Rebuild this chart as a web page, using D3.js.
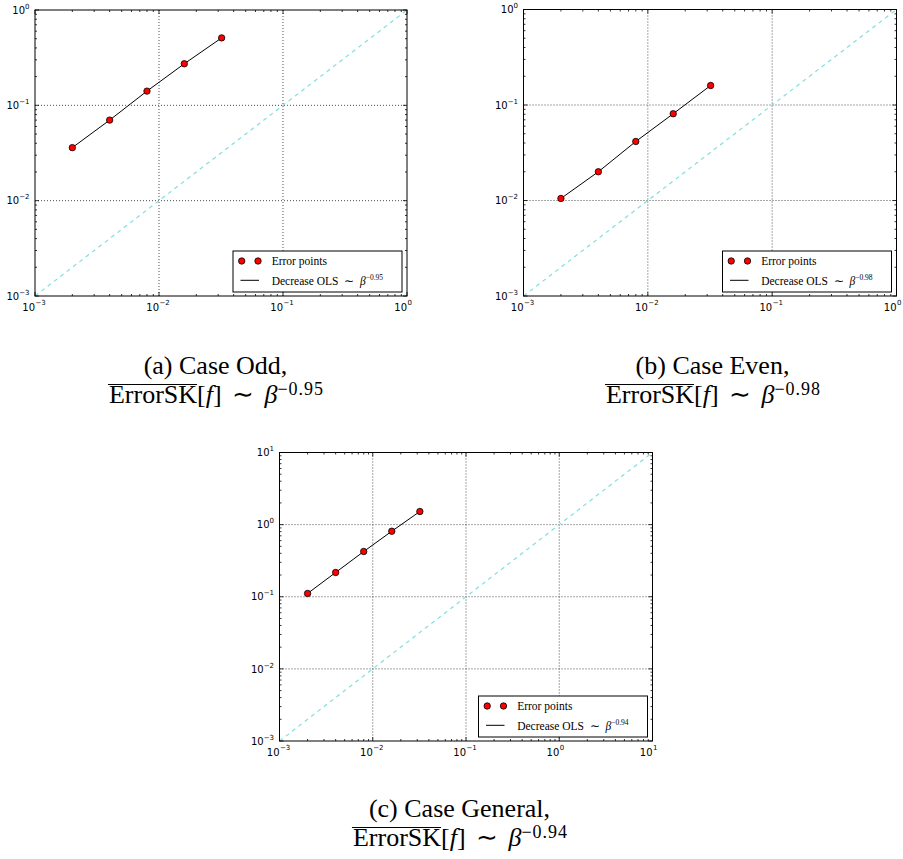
<!DOCTYPE html>
<html>
<head>
<meta charset="utf-8">
<script src="https://cdn.jsdelivr.net/npm/d3@7"></script>
<style>
  html, body { margin: 0; padding: 0; background: #fff; }
  svg { display: block; }
</style>
</head>
<body>
<svg id="chart" width="903" height="859"></svg>
<script>
// ---------------- data ----------------
const betaValues   = [0.002, 0.004, 0.008, 0.016, 0.032];
const errorOdd     = [0.036, 0.070, 0.141, 0.273, 0.51];
const errorEven    = [0.0105, 0.020, 0.0415, 0.081, 0.160];
const errorGeneral = [0.111, 0.217, 0.424, 0.81, 1.52];
const exponents    = ["0.95", "0.98", "0.94"];
const caseNames    = ["(a) Case Odd,", "(b) Case Even,", "(c) Case General,"];
const ticksAB      = [-3, -2, -1, 0];
const ticksC       = [-3, -2, -1, 0, 1];
const legendLabels = ["Error points", "Decrease OLS"];

// ---------------- layout ----------------
const panels = [
  {x0: 35,    x1: 407,   y0: 10,    y1: 296, dom: [1e-3, 1],  ticks: ticksAB, y: errorOdd,     exp: exponents[0], cap: caseNames[0], cx: 215.5, cy: 374},
  {x0: 523.5, x1: 896.5, y0: 9.5,   y1: 296, dom: [1e-3, 1],  ticks: ticksAB, y: errorEven,    exp: exponents[1], cap: caseNames[1], cx: 712.5, cy: 374},
  {x0: 279.5, x1: 652.5, y0: 452.5, y1: 741, dom: [1e-3, 10], ticks: ticksC,  y: errorGeneral, exp: exponents[2], cap: caseNames[2], cx: 459.5, cy: 817}
];

const svg = d3.select("#chart");
const serif = "'Liberation Serif', 'Times New Roman', serif";
const sans = "'DejaVu Sans', sans-serif";
const NB = "\u00A0";

function minorTicks(dom) {
  const out = [];
  const lo = Math.round(Math.log10(dom[0])), hi = Math.round(Math.log10(dom[1]));
  for (let d = lo; d < hi; d++) for (let k = 2; k <= 9; k++) out.push(k * Math.pow(10, d));
  return out;
}

panels.forEach(p => {
  const xs = d3.scaleLog().domain(p.dom).range([p.x0, p.x1]);
  const ys = d3.scaleLog().domain(p.dom).range([p.y1, p.y0]);
  const g = svg.append("g");
  const major = p.ticks.map(e => Math.pow(10, e));
  const minor = minorTicks(p.dom);

  // grid (dotted) at major ticks
  const grid = g.append("g").attr("stroke", "#000").attr("stroke-width", 0.7).attr("stroke-dasharray", "1,2");
  major.slice(1, -1).forEach(v => {
    grid.append("line").attr("x1", xs(v)).attr("x2", xs(v)).attr("y1", p.y0).attr("y2", p.y1);
    grid.append("line").attr("y1", ys(v)).attr("y2", ys(v)).attr("x1", p.x0).attr("x2", p.x1);
  });

  // diagonal y = x (dashed cyan)
  g.append("line")
    .attr("x1", xs(p.dom[0])).attr("y1", ys(p.dom[0]))
    .attr("x2", xs(p.dom[1])).attr("y2", ys(p.dom[1]))
    .attr("stroke", "#80dfdf").attr("stroke-width", 1.2).attr("stroke-dasharray", "4,4");

  // OLS line
  const pts = betaValues.map((b, i) => [b, p.y[i]]);
  g.append("path")
    .attr("d", d3.line().x(d => xs(d[0])).y(d => ys(d[1]))(pts))
    .attr("fill", "none").attr("stroke", "#000").attr("stroke-width", 1);

  // points
  g.selectAll("circle.pt").data(pts).enter().append("circle")
    .attr("cx", d => xs(d[0])).attr("cy", d => ys(d[1])).attr("r", 3.2)
    .attr("fill", "#ff0000").attr("stroke", "#000").attr("stroke-width", 0.8);

  // frame
  g.append("rect").attr("x", p.x0).attr("y", p.y0).attr("width", p.x1 - p.x0).attr("height", p.y1 - p.y0)
    .attr("fill", "none").attr("stroke", "#000").attr("stroke-width", 1);

  // ticks inward on all sides
  const tk = g.append("g").attr("stroke", "#000").attr("stroke-width", 0.8);
  function addTicks(vals, len) {
    vals.forEach(v => {
      const x = xs(v), y = ys(v);
      tk.append("line").attr("x1", x).attr("x2", x).attr("y1", p.y1).attr("y2", p.y1 - len);
      tk.append("line").attr("x1", x).attr("x2", x).attr("y1", p.y0).attr("y2", p.y0 + len);
      tk.append("line").attr("y1", y).attr("y2", y).attr("x1", p.x0).attr("x2", p.x0 + len);
      tk.append("line").attr("y1", y).attr("y2", y).attr("x1", p.x1).attr("x2", p.x1 - len);
    });
  }
  addTicks(major, 4);
  addTicks(minor, 2);

  // tick labels
  p.ticks.forEach(e => {
    const v = Math.pow(10, e);
    const es = e < 0 ? "\u2212" + (-e) : String(e);
    // x labels
    g.append("text").attr("x", xs(v)).attr("y", p.y1 + 14.5).attr("text-anchor", "end")
      .attr("font-family", sans).attr("font-size", 10).attr("fill", "#000").text("10");
    g.append("text").attr("x", xs(v) + 0.5).attr("y", p.y1 + 9).attr("text-anchor", "start")
      .attr("font-family", sans).attr("font-size", 7).attr("fill", "#000").text(es);
    // y labels
    const t = g.append("text").attr("x", p.x0 - 5.5).attr("y", ys(v) + 3.7).attr("text-anchor", "end")
      .attr("font-family", sans).attr("font-size", 10).attr("fill", "#000");
    t.append("tspan").text("10");
    t.append("tspan").attr("dy", -5).attr("font-size", 7).text(es);
  });

  // legend
  const lw = 169, lh = 41;
  const lx = p.x1 - 5 - lw, ly = p.y1 - 4 - lh;
  const lg = g.append("g");
  lg.append("rect").attr("x", lx).attr("y", ly).attr("width", lw).attr("height", lh)
    .attr("fill", "#fff").attr("stroke", "#000").attr("stroke-width", 1);
  [lx + 8.7, lx + 25].forEach(mx => {
    lg.append("circle").attr("cx", mx).attr("cy", ly + 10).attr("r", 3.2)
      .attr("fill", "#ff0000").attr("stroke", "#000").attr("stroke-width", 0.8);
  });
  lg.append("line").attr("x1", lx + 7.5).attr("x2", lx + 26).attr("y1", ly + 29.3).attr("y2", ly + 29.3)
    .attr("stroke", "#000").attr("stroke-width", 1);
  lg.append("text").attr("x", lx + 38.7).attr("y", ly + 14)
    .attr("font-family", serif).attr("font-size", 11.5).attr("fill", "#000").text(legendLabels[0]);
  const lt = lg.append("text").attr("x", lx + 38.7).attr("y", ly + 33.5)
    .attr("font-family", serif).attr("font-size", 11.5).attr("fill", "#000");
  lt.append("tspan").text(legendLabels[1] + NB + NB + "\u223C" + NB + NB);
  lt.append("tspan").attr("font-style", "italic").text("\u03B2");
  lt.append("tspan").attr("dy", -5).attr("font-size", 7.5).text("\u2212" + p.exp);

  // caption
  svg.append("text").attr("x", p.cx).attr("y", p.cy).attr("text-anchor", "middle")
    .attr("font-family", serif).attr("font-size", 26).attr("fill", "#000").text(p.cap);
  const c2 = svg.append("text").attr("x", p.cx + 1).attr("y", p.cy + 28.5).attr("text-anchor", "middle")
    .attr("font-family", serif).attr("font-size", 26).attr("fill", "#000");
  c2.append("tspan").text("ErrorSK[");
  c2.append("tspan").attr("font-style", "italic").text("f");
  c2.append("tspan").text("]\u2009\u2009\u223C\u2009\u2009");
  c2.append("tspan").attr("font-style", "italic").text("\u03B2");
  c2.append("tspan").attr("dy", -8).attr("font-size", 18).attr("letter-spacing", 1).text("\u2212" + p.exp);
  const node = c2.node();
  const sx = node.getStartPositionOfChar(0).x;
  const w = node.getSubStringLength(0, 7);
  svg.append("line").attr("x1", sx - 1).attr("x2", sx + w).attr("y1", p.cy + 10.5).attr("y2", p.cy + 10.5)
    .attr("stroke", "#000").attr("stroke-width", 1);
});
</script>
</body>
</html>
